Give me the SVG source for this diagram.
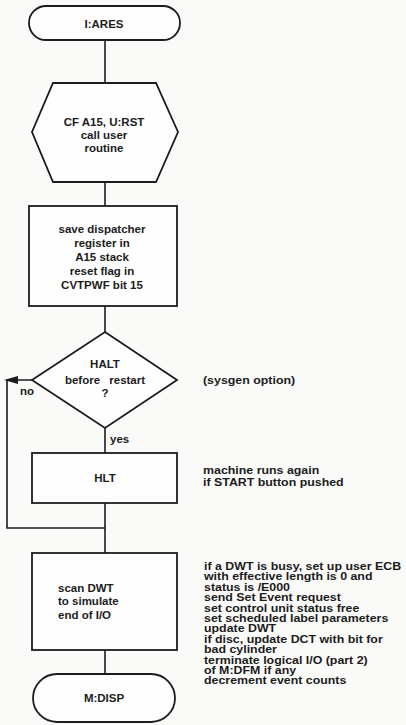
<svg xmlns="http://www.w3.org/2000/svg" width="406" height="725" viewBox="0 0 406 725">
<defs>
<style>
.bg{fill:#fafaf8}
.shape{fill:#fefefe;stroke:#1c1c1c;stroke-width:1.8}
.line{fill:none;stroke:#1c1c1c;stroke-width:1.6}
.t{font-family:"Liberation Sans",Arial,Helvetica,sans-serif;font-weight:bold;font-size:11.5px;fill:#1c1c1c}
.c{text-anchor:middle}
.n{font-family:"Liberation Sans",Arial,Helvetica,sans-serif;font-weight:bold;font-size:10.5px;fill:#1c1c1c}
</style>
</defs>
<rect class="bg" x="0" y="0" width="406" height="725"/>

<g id="connectors">
<path class="line" d="M105,40 V83"/>
<path class="line" d="M105,182 V206"/>
<path class="line" d="M105,306 V332"/>
<path class="line" d="M105,428 V453"/>
<path class="line" d="M105,503 V553"/>
<path class="line" d="M105,650 V674"/>
<path class="line" d="M32,380 H7 V528 H105"/>
<polygon points="4,380 18,376 18,384" fill="#1c1c1c"/>
<text class="t" x="20" y="395">no</text>
<text class="t" x="110" y="443">yes</text>
</g>

<g id="start">
<rect class="shape" x="29" y="6" width="151" height="34" rx="17" ry="17"/>
<text class="t c" x="104" y="28">I:ARES</text>
</g>

<g id="call-user">
<polygon class="shape" points="53,83 156,83 178,132 156,182 53,182 32,132"/>
<text class="t c" x="104" y="126">CF A15, U:RST</text>
<text class="t c" x="104" y="139">call user</text>
<text class="t c" x="104" y="152">routine</text>
</g>

<g id="save-dispatcher">
<rect class="shape" x="29" y="206" width="148" height="100"/>
<text class="t c" x="102" y="233">save dispatcher</text>
<text class="t c" x="102" y="247">register in</text>
<text class="t c" x="102" y="261">A15 stack</text>
<text class="t c" x="102" y="275">reset flag in</text>
<text class="t c" x="102" y="289">CVTPWF bit 15</text>
</g>

<g id="halt-decision">
<polygon class="shape" points="105,332 177,380 105,428 32,380"/>
<text class="t c" x="105" y="368">HALT</text>
<text class="t c" x="105" y="384">before<tspan dx="6"> restart</tspan></text>
<text class="t c" x="105" y="397">?</text>
</g>

<g id="sysgen-note">
<g transform="translate(203,0) scale(1.18,1)">
<text class="n" x="0" y="384">(sysgen option)</text>
</g>
</g>

<g id="hlt">
<rect class="shape" x="32" y="453" width="145" height="50"/>
<text class="t c" x="105" y="482">HLT</text>
</g>

<g id="hlt-note">
<g transform="translate(203,0) scale(1.18,1)">
<text class="n" x="0" y="474">machine runs again</text>
<text class="n" x="0" y="486">if START button pushed</text>
</g>
</g>

<g id="scan-dwt">
<rect class="shape" x="32" y="553" width="145" height="97"/>
<text class="t" x="58" y="592">scan DWT</text>
<text class="t" x="58" y="605">to simulate</text>
<text class="t" x="58" y="619">end of I/O</text>
</g>

<g id="scan-note">
<g transform="translate(204,0) scale(1.18,1)">
<text class="n" x="0" y="570">if a DWT is busy, set up user ECB</text>
<text class="n" x="0" y="580.4">with effective length is 0 and</text>
<text class="n" x="0" y="590.8">status is /E000</text>
<text class="n" x="0" y="601.2">send Set Event request</text>
<text class="n" x="0" y="611.6">set control unit status free</text>
<text class="n" x="0" y="622">set scheduled label parameters</text>
<text class="n" x="0" y="632.4">update DWT</text>
<text class="n" x="0" y="642.8">if disc, update DCT with bit for</text>
<text class="n" x="0" y="653.2">bad cylinder</text>
<text class="n" x="0" y="663.6">terminate logical I/O (part 2)</text>
<text class="n" x="0" y="674">of M:DFM if any</text>
<text class="n" x="0" y="684.4">decrement event counts</text>
</g>
</g>

<g id="end">
<rect class="shape" x="33" y="674" width="142" height="48" rx="24" ry="24"/>
<text class="t c" x="104" y="702">M:DISP</text>
</g>
</svg>
